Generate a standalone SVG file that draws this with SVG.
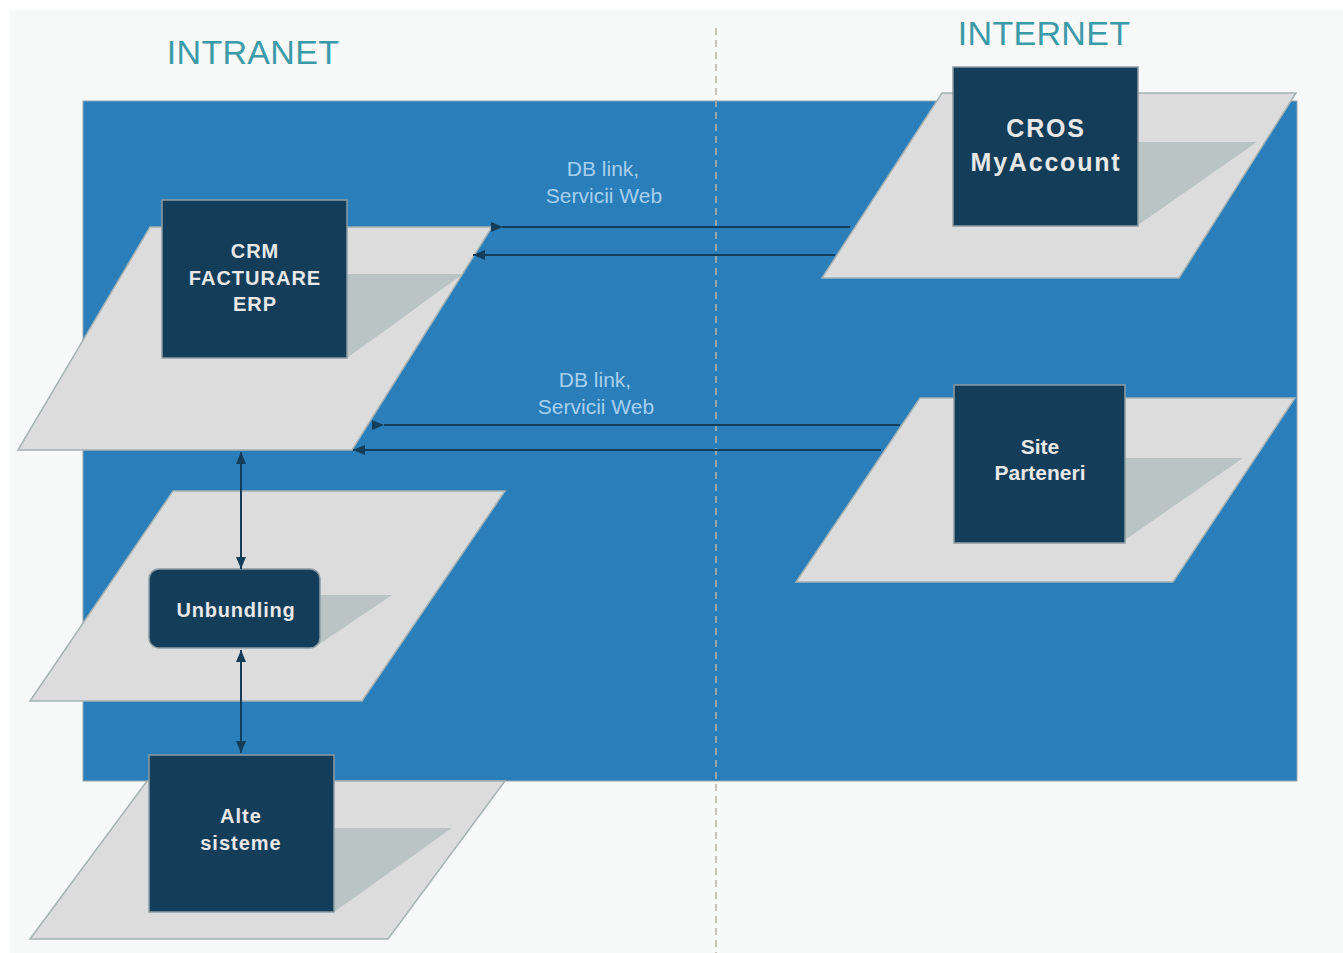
<svg xmlns="http://www.w3.org/2000/svg" width="1343" height="953" viewBox="0 0 1343 953">
<style>
.plane{fill:#dcdcdc;stroke:#a6b2b3;stroke-width:1.5}
.shadow{fill:#bbc4c4}
.box{fill:#143d5a;stroke:#8c9ca2;stroke-width:1.5}
.t{font-family:"Liberation Sans",Arial,sans-serif;font-weight:bold;fill:#e8e8e8;text-anchor:middle}
.zone{font-family:"Liberation Sans",Arial,sans-serif;font-size:34px;fill:#3a9aa8;text-anchor:middle;letter-spacing:0.3px}
.lbl{font-family:"Liberation Sans",Arial,sans-serif;font-size:21px;fill:#a8cfee;text-anchor:middle}
.conn{stroke:#143d5a;stroke-width:2;fill:none}
.head{fill:#143d5a}
</style>
<defs>
<marker id="ah" viewBox="0 0 12 10" refX="12" refY="5" markerWidth="12" markerHeight="10" markerUnits="userSpaceOnUse" orient="auto-start-reverse">
<path d="M0,0 L12,5 L0,10 Z" fill="#143d5a"/>
</marker>
</defs>
<rect x="0" y="0" width="1343" height="953" fill="#ffffff"/>
<rect x="10" y="10" width="1333" height="943" fill="#f7f8f8"/>
<rect id="zone-bg" x="83" y="101" width="1214" height="680" fill="#2a7fba" stroke="#9aa6a8" stroke-width="1"/>
<line x1="716" y1="28" x2="716" y2="953" stroke="#b9b3a5" stroke-width="1.5" stroke-dasharray="7,5"/>
<text class="zone" x="253" y="64">INTRANET</text>
<text class="zone" x="1044" y="45">INTERNET</text>

<g id="crm">
<polygon class="plane" points="150,227 492,227 352,450 18,450"/>
<polygon class="shadow" points="347,274 463,274 347,358"/>
<rect class="box" x="162" y="200" width="185" height="158"/>
<text class="t" font-size="20" letter-spacing="1" x="255" y="258">CRM</text>
<text class="t" font-size="20" letter-spacing="1" x="255" y="285">FACTURARE</text>
<text class="t" font-size="20" letter-spacing="1" x="255" y="311">ERP</text>
</g>

<g id="cros">
<polygon class="plane" points="942,93 1296,93 1179,278 822,278"/>
<polygon class="shadow" points="1138,142 1257,142 1138,225"/>
<rect class="box" x="953" y="67" width="185" height="159"/>
<text class="t" font-size="25" letter-spacing="1.8" x="1046" y="137">CROS</text>
<text class="t" font-size="25" letter-spacing="1.8" x="1046" y="171">MyAccount</text>
</g>

<g id="site">
<polygon class="plane" points="920,398 1295,398 1173,582 796,582"/>
<polygon class="shadow" points="1125,458 1243,458 1125,540"/>
<rect class="box" x="954" y="385" width="171" height="158"/>
<text class="t" font-size="21" x="1040" y="454">Site</text>
<text class="t" font-size="21" x="1040" y="480">Parteneri</text>
</g>

<g id="unbundling">
<polygon class="plane" points="173,491 505,491 362,701 30,701"/>
<polygon class="shadow" points="318,595 392,595 318,645"/>
<rect class="box" x="149" y="569" width="171" height="79" rx="10" ry="10"/>
<text class="t" font-size="20" letter-spacing="0.8" x="236" y="617">Unbundling</text>
</g>

<g id="alte">
<polygon class="plane" points="147,781 505,781 388,939 30,939"/>
<polygon class="shadow" points="334,828 452,828 334,912"/>
<rect class="box" x="149" y="755" width="185" height="157"/>
<text class="t" font-size="20" letter-spacing="1" x="241" y="823">Alte</text>
<text class="t" font-size="20" letter-spacing="1" x="241" y="850">sisteme</text>
</g>

<g id="connectors">
<line class="conn" x1="850" y1="227" x2="502" y2="227"/>
<path class="head" d="M491,222 L503,227 L491,232 Z"/>
<line class="conn" x1="835" y1="255" x2="473" y2="255" marker-end="url(#ah)"/>
<line class="conn" x1="900" y1="425" x2="384" y2="425"/>
<path class="head" d="M372,420 L384,425 L372,430 Z"/>
<line class="conn" x1="881" y1="450" x2="353" y2="450" marker-end="url(#ah)"/>
<line class="conn" x1="241" y1="452" x2="241" y2="569" marker-start="url(#ah)" marker-end="url(#ah)"/>
<line class="conn" x1="241" y1="650" x2="241" y2="753" marker-start="url(#ah)" marker-end="url(#ah)"/>
<text class="lbl" x="603" y="176">DB link,</text>
<text class="lbl" x="604" y="203">Servicii Web</text>
<text class="lbl" x="595" y="387">DB link,</text>
<text class="lbl" x="596" y="414">Servicii Web</text>
</g>
</svg>
